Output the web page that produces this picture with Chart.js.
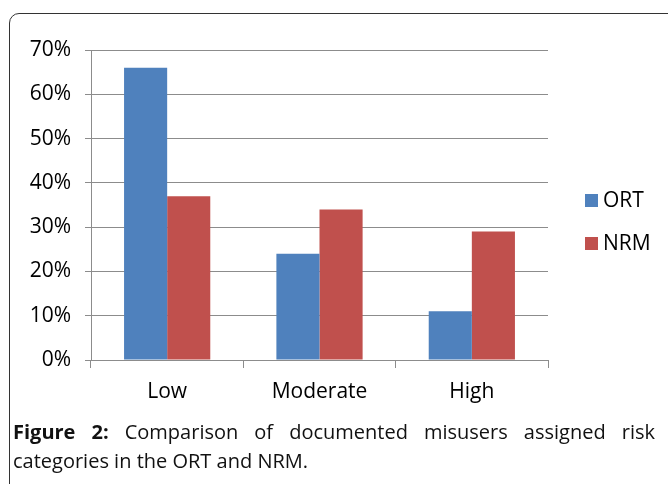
<!DOCTYPE html>
<html>
<head>
<meta charset="utf-8">
<script src="https://cdn.jsdelivr.net/npm/chart.js@4/dist/chart.umd.min.js"></script>
<style>
  html, body { margin: 0; padding: 0; background: #fff; overflow: hidden; }
  body { width: 668px; height: 484px; position: relative; font-family: "Open Sans", sans-serif; }
  #frame {
    position: absolute; left: 9px; top: 13px; width: 720px; height: 520px;
    border: 1px solid #333; border-top-left-radius: 10px; box-sizing: border-box;
  }
  #wrap { position: absolute; left: 0; top: 0; width: 668px; height: 420px; }
  #caption {
    position: absolute; left: 13px; top: 417px; width: 642px;
    font-size: 20px; line-height: 29px; color: #111; text-align: justify;
  }
  #caption b { font-weight: 700; }
</style>
</head>
<body>
<div id="frame"></div>
<div id="wrap"><canvas id="chart" width="668" height="420"></canvas></div>
<div id="caption"><b>Figure 2:</b> Comparison of documented misusers assigned risk categories in the ORT and NRM.</div>
<script>
  // ---- data ----
  const categories = ['Low', 'Moderate', 'High'];
  const ortValues = [66, 24, 11];
  const nrmValues = [37, 34, 29];
  const seriesNames = ['ORT', 'NRM'];
  const yTicks = [0, 10, 20, 30, 40, 50, 60, 70];

  const BLUE = '#4F81BD', RED = '#C0504D', GRID = '#8c8c8c';
  const FONT = { family: '"Open Sans", sans-serif', size: 21 };

  // legend drawn at right side, like the original
  const sideLegend = {
    id: 'sideLegend',
    afterDraw(chart) {
      const ctx = chart.ctx;
      const rows = [200, 243];
      ctx.save();
      ctx.font = '21px "Open Sans", sans-serif';
      ctx.textBaseline = 'middle';
      chart.data.datasets.forEach((ds, i) => {
        const y = rows[i];
        ctx.fillStyle = ds.backgroundColor;
        ctx.fillRect(585, y - 6, 13, 13);
        ctx.fillStyle = '#000';
        ctx.fillText(ds.label, 603, y + 1);
      });
      ctx.restore();
    }
  };

  new Chart(document.getElementById('chart'), {
    type: 'bar',
    data: {
      labels: categories,
      datasets: [
        { label: seriesNames[0], data: ortValues, backgroundColor: BLUE },
        { label: seriesNames[1], data: nrmValues, backgroundColor: RED }
      ]
    },
    options: {
      responsive: false,
      animation: false,
      layout: { padding: { top: 50, right: 120, left: 0, bottom: 0 } },
      plugins: { legend: { display: false }, tooltip: { enabled: false } },
      datasets: { bar: { categoryPercentage: 0.566, barPercentage: 1 } },
      scales: {
        x: {
          grid: { drawOnChartArea: false, offset: true, color: GRID, tickLength: 8 },
          border: { color: GRID },
          ticks: { color: '#000', font: FONT, padding: 11 },
          afterFit(s) { s.height = 60; }
        },
        y: {
          min: 0, max: 70,
          afterBuildTicks(s) { s.ticks = yTicks.map(v => ({ value: v })); },
          grid: { color: GRID, tickLength: 6 },
          border: { color: GRID },
          ticks: { color: '#000', font: FONT, padding: 14, callback: v => v + '%' },
          afterFit(s) { s.width = 91; }
        }
      }
    },
    plugins: [sideLegend]
  });
</script>
</body>
</html>
